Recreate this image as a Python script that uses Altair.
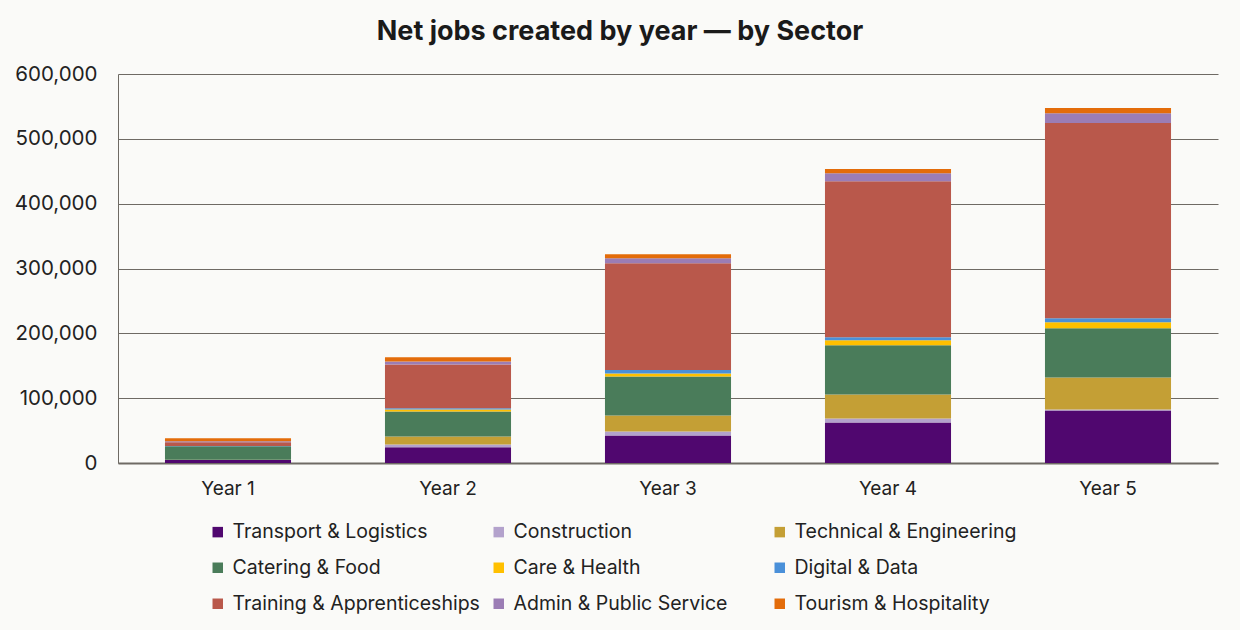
import altair as alt
import pandas as pd

years = ["Year 1", "Year 2", "Year 3", "Year 4", "Year 5"]
sectors = [
    "Transport & Logistics", "Construction", "Technical & Engineering",
    "Catering & Food", "Care & Health", "Digital & Data",
    "Training & Apprenticeships", "Admin & Public Service", "Tourism & Hospitality",
]
colors = ["#50076f", "#b3a2cc", "#c49f35", "#4a7c5a", "#ffc000",
          "#4a90d9", "#b9584b", "#9b7db5", "#e36c0a"]

transport = [4500, 24400, 42500, 62500, 81100]
construction = [300, 4100, 6200, 6200, 1500]
technical = [400, 12400, 24700, 37100, 49400]
catering = [20500, 38600, 60200, 75700, 75700]
care = [300, 3100, 4600, 7700, 9300]
digital = [300, 2000, 5100, 4600, 6200]
training = [5700, 67500, 164700, 240900, 301100]
admin = [1500, 4600, 7700, 12400, 15000]
tourism = [4600, 6600, 6200, 6200, 8200]

series = [transport, construction, technical, catering, care, digital,
          training, admin, tourism]

rows = []
for i, (s, vals) in enumerate(zip(sectors, series)):
    for yr, v in zip(years, vals):
        rows.append({"Year": yr, "Sector": s, "Jobs": v, "order": i})
df = pd.DataFrame(rows)

FONT = "Inter"
GRAY = "#6e6a64"
TEXT = "#222222"

chart = alt.Chart(df).mark_bar().encode(
    x=alt.X("Year:N", sort=years,
            scale=alt.Scale(paddingInner=0.427, paddingOuter=0.2135),
            axis=alt.Axis(title=None, labelAngle=0, ticks=False, domainWidth=2,
                          domainColor=GRAY, labelFontSize=19, labelPadding=16,
                          labelColor=TEXT, labelFont=FONT)),
    y=alt.Y("Jobs:Q", stack="zero",
            scale=alt.Scale(domain=[0, 600000], nice=False),
            axis=alt.Axis(title=None, values=[0, 100000, 200000, 300000, 400000, 500000, 600000],
                          format=",d", ticks=False, grid=True, gridColor=GRAY, gridWidth=1,
                          domainColor=GRAY, domainWidth=1, labelPadding=21,
                          labelFontSize=20.5, labelColor=TEXT, labelFont=FONT)),
    color=alt.Color("Sector:N", scale=alt.Scale(domain=sectors, range=colors),
                    legend=alt.Legend(title=None, orient="none", legendX=90, legendY=448,
                                      direction="horizontal",
                                      columns=3, gridAlign="all", columnPadding=9,
                                      rowPadding=15, symbolType="square", symbolSize=110,
                                      symbolStrokeWidth=0, labelFontSize=19.5, labelOffset=5,
                                      labelFont=FONT, labelColor=TEXT, padding=0,
                                      labelLimit=400)),
    order=alt.Order("order:Q", sort="ascending"),
).properties(
    width=1100, height=389,
    title=alt.TitleParams("Net jobs created by year — by Sector", fontSize=27,
                          fontWeight="bold", font=FONT, anchor="middle", dx=-48,
                          offset=18, color="#1a1a1a"),
    autosize=alt.AutoSizeParams(type="none"),
    padding={"left": 118, "top": 74, "right": 22, "bottom": 167},
    background="#fafaf8",
).configure_view(stroke=None)

chart.save("out.html", embed_options={"renderer": "svg", "actions": False})
